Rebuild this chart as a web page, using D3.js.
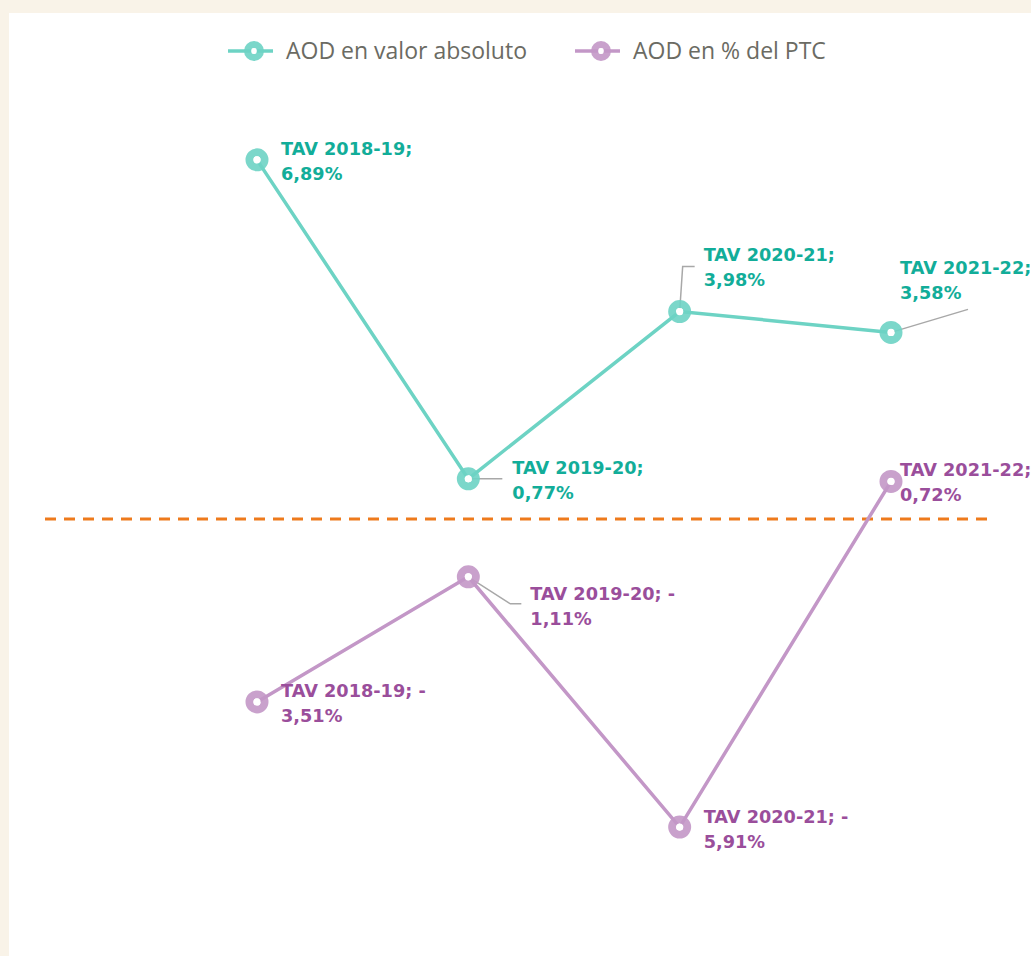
<!DOCTYPE html>
<html>
<head>
<meta charset="utf-8">
<script src="https://cdn.jsdelivr.net/npm/d3@7"></script>
<style>
  html, body { margin: 0; padding: 0; background: #f9f3e8; }
  #chart-area { width: 1031px; height: 956px; overflow: hidden; }
  svg { display: block; }
</style>
</head>
<body>
<div id="chart-area"></div>
<script>
// datos del gráfico
const periods = ['2018-19', '2019-20', '2020-21', '2021-22'];
const aodAbsoluto = [6.89, 0.77, 3.98, 3.58];
const aodPctPTC = [-3.51, -1.11, -5.91, 0.72];
const seriesNames = ['AOD en valor absoluto', 'AOD en % del PTC'];

const width = 1031, height = 956;
const lineColors = ['#6dd3c4', '#c397c7'];
const textColors = ['#12ad99', '#9a4e9b'];

const svg = d3.select('#chart-area').append('svg')
    .attr('width', width)
    .attr('height', height);

// panel blanco
svg.append('rect')
    .attr('x', 9).attr('y', 13)
    .attr('width', width).attr('height', height)
    .attr('fill', '#ffffff');

const x = d3.scalePoint().domain(periods).range([257, 891]);
const y = d3.scaleLinear().domain([-8, 8]).range([936, 102]);

// línea de cero discontinua
svg.append('line')
    .attr('x1', 45).attr('x2', 990)
    .attr('y1', y(0)).attr('y2', y(0))
    .attr('stroke', '#ee7a1c')
    .attr('stroke-width', 3)
    .attr('stroke-dasharray', '11,8');

const labelFont = '"DejaVu Sans", "Noto Sans", sans-serif';
const legendFont = '"Open Sans", "Noto Sans", sans-serif';

// posiciones de etiquetas relativas al punto (dx, dy primera línea) y guías
const labelOffsets = [
    [{dx: 24, dy: -5}, {dx: 44, dy: -5, leader: [[0, 0], [34, 0]]}, {dx: 24, dy: -51, leader: [[0, 0], [3, -45], [15, -45]]}, {dx: 9, dy: -58, leader: [[0, 0], [77, -23]]}],
    [{dx: 24, dy: -5}, {dx: 62, dy: 23, leader: [[0, 0], [42, 27], [53, 27]]}, {dx: 24, dy: -4}, {dx: 9, dy: -5}]
];

const series = [aodAbsoluto, aodPctPTC];

series.forEach((values, si) => {
    const data = periods.map((p, i) => ({period: p, value: values[i]}));
    const g = svg.append('g');

    g.append('path')
        .datum(data)
        .attr('fill', 'none')
        .attr('stroke', lineColors[si])
        .attr('stroke-width', 3.5)
        .attr('d', d3.line().x(d => x(d.period)).y(d => y(d.value)));

    // guías de etiquetas
    data.forEach((d, i) => {
        const off = labelOffsets[si][i];
        if (off.leader) {
            g.append('path')
                .attr('fill', 'none')
                .attr('stroke', '#a8a8a8')
                .attr('stroke-width', 1.5)
                .attr('d', d3.line()(off.leader.map(p => [x(d.period) + p[0], y(d.value) + p[1]])));
        }
    });

    // marcadores
    g.selectAll('circle.outer')
        .data(data)
        .join('circle')
        .attr('class', 'outer')
        .attr('cx', d => x(d.period))
        .attr('cy', d => y(d.value))
        .attr('r', 7.5)
        .attr('fill', 'none')
        .attr('stroke', lineColors[si])
        .attr('stroke-opacity', 0.9)
        .attr('stroke-width', 8);
    g.selectAll('circle.inner')
        .data(data)
        .join('circle')
        .attr('class', 'inner')
        .attr('cx', d => x(d.period))
        .attr('cy', d => y(d.value))
        .attr('r', 3.6)
        .attr('fill', '#ffffff');

    // etiquetas
    data.forEach((d, i) => {
        const off = labelOffsets[si][i];
        const v = d.value.toFixed(2).replace('.', ',');
        const lines = d.value < 0
            ? [`TAV ${d.period}; -`, `${v.replace('-', '')}%`]
            : [`TAV ${d.period};`, `${v}%`];
        const t = g.append('text')
            .attr('x', x(d.period) + off.dx)
            .attr('y', y(d.value) + off.dy)
            .attr('fill', textColors[si])
            .attr('font-family', labelFont)
            .attr('font-weight', 700)
            .attr('font-size', 17.7);
        lines.forEach((ln, k) => {
            t.append('tspan')
                .attr('x', x(d.period) + off.dx)
                .attr('dy', k === 0 ? 0 : 25)
                .text(ln);
        });
    });
});

// leyenda
const legendItems = [
    {name: seriesNames[0], x: 228, color: lineColors[0]},
    {name: seriesNames[1], x: 575, color: lineColors[1]}
];
const legend = svg.append('g');
legendItems.forEach(item => {
    const lg = legend.append('g');
    lg.append('line')
        .attr('x1', item.x).attr('x2', item.x + 45)
        .attr('y1', 51).attr('y2', 51)
        .attr('stroke', item.color)
        .attr('stroke-width', 3.5);
    lg.append('circle')
        .attr('cx', item.x + 26).attr('cy', 51)
        .attr('r', 6.5)
        .attr('fill', 'none')
        .attr('stroke', item.color)
        .attr('stroke-opacity', 0.9)
        .attr('stroke-width', 7);
    lg.append('circle')
        .attr('cx', item.x + 26).attr('cy', 51)
        .attr('r', 2.8)
        .attr('fill', '#ffffff');
    lg.append('text')
        .attr('x', item.x + 58)
        .attr('y', 59)
        .attr('fill', '#6b6b63')
        .attr('font-family', legendFont)
        .attr('font-size', 23)
        .text(item.name);
});
</script>
</body>
</html>
